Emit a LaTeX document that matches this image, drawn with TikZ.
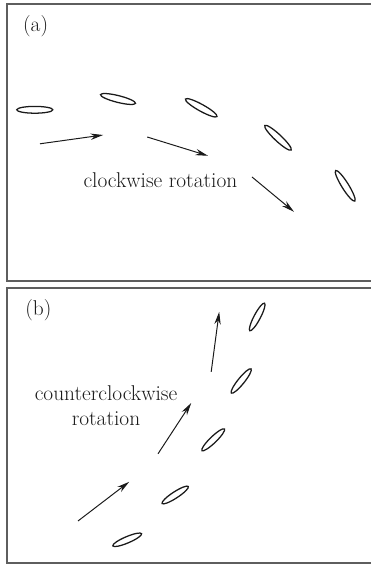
\documentclass[tikz,border=0pt]{standalone}
\usetikzlibrary{arrows.meta, shapes.geometric}
\definecolor{framecolor}{HTML}{5E5E5E}
\definecolor{inkcolor}{HTML}{1A1A1A}

\begin{document}
\begin{tikzpicture}[
    every node/.style={font=\fontsize{15.2}{17.6}\selectfont},
    frame/.style={draw=framecolor, line width=1.5pt},
    tag/.style={text=inkcolor},
    lab/.style={text=inkcolor, align=center},
    elli/.style={
        ellipse, draw=inkcolor, line width=0.9pt, inner sep=0pt,
        minimum width=0.9cm, minimum height=0.17cm, rotate=#1,
    },
    arr/.style={-{Stealth[length=9pt, width=4.5pt]}, line width=0.7pt, color=inkcolor},
]
\useasboundingbox (0,0) rectangle (9.275,14.125);
\clip (0,0) rectangle (9.275,14.125);

% ---------------------------------------------------------------- panel a
\draw[frame] (0.17, 7.11) rectangle (9.60, 14.03);
\node[tag] (taga) at (0.89, 13.46) {(a)};

\foreach \n/\x/\y/\ang in {1/0.87/11.38/0, 2/2.95/11.65/-14, 3/5.03/11.43/-29,
                           4/6.95/10.68/-43, 5/8.63/9.48/-58}{
    \node[elli=\ang] (pa\n) at (\x, \y) {};
}

\coordinate (sa1) at (1.00, 10.53);
\coordinate (ea1) at (2.58, 10.75);
\coordinate (sa2) at (3.68, 10.70);
\coordinate (ea2) at (5.20, 10.23);
\coordinate (sa3) at (6.30, 9.70);
\coordinate (ea3) at (7.35, 8.83);
\foreach \i in {1,2,3}{
    \draw[arr] (sa\i) -- (ea\i);
}

\node[lab] (cw) at (4.01, 9.63) {clockwise rotation};

% ---------------------------------------------------------------- panel b
\draw[frame] (0.17, 0.04) rectangle (9.60, 6.93);
\node[tag] (tagb) at (0.96, 6.38) {(b)};

\foreach \n/\x/\y/\ang in {1/3.18/0.63/23, 2/4.38/1.75/33, 3/5.33/3.13/44,
                           4/6.03/4.60/51, 5/6.43/6.20/62}{
    \node[elli=\ang, minimum width=0.78cm, minimum height=0.16cm] (pb\n) at (\x, \y) {};
}

\coordinate (sb1) at (1.95, 1.10);
\coordinate (eb1) at (3.23, 2.08);
\coordinate (sb2) at (3.95, 2.78);
\coordinate (eb2) at (4.78, 4.05);
\coordinate (sb3) at (5.28, 4.83);
\coordinate (eb3) at (5.48, 6.33);
\foreach \i in {1,2,3}{
    \draw[arr] (sb\i) -- (eb\i);
}

\node[lab] (ccw) at (2.65, 3.98) {counterclockwise\\ rotation};

\end{tikzpicture}
\end{document}
